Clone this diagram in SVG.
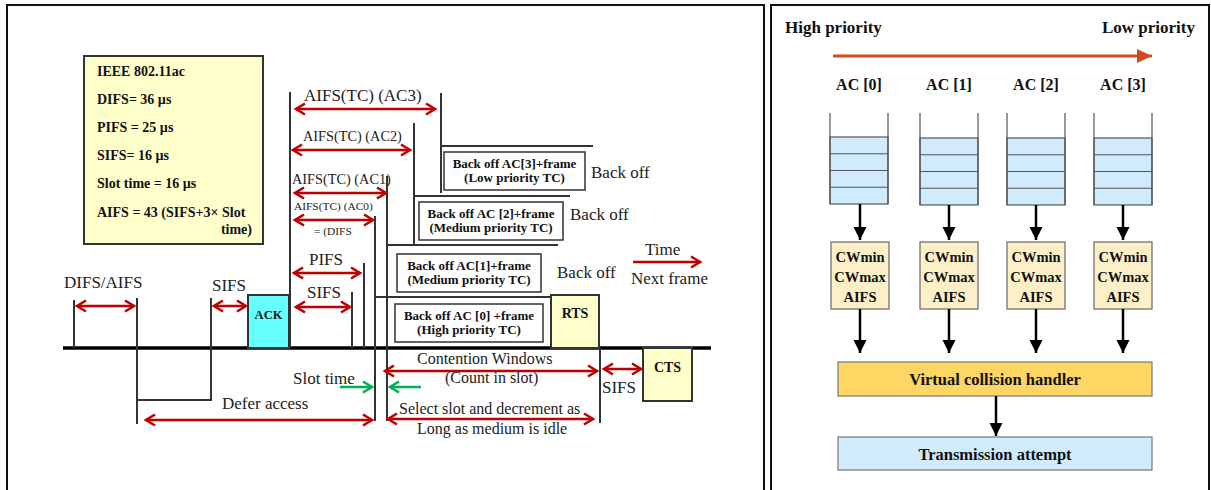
<svg xmlns="http://www.w3.org/2000/svg" width="1211" height="490" viewBox="0 0 1211 490">
  <defs>
    <style>
      .frame { fill: none; stroke: #111; stroke-width: 2; }
      .ln { stroke: #333; stroke-width: 2; fill: none; }
      .medium { stroke: #000; stroke-width: 3.5; }
      .red { stroke: #c00000; stroke-width: 2.5; fill: none; }
      .green { stroke: #00b050; stroke-width: 2.5; fill: none; }
      .blk { stroke: #000; stroke-width: 2.5; fill: none; }
      .lbl { font-family: "Liberation Serif", "Times New Roman", serif; fill: #222; }
      .b { font-family: "Liberation Serif", "Times New Roman", serif; font-weight: bold; fill: #111; }
      .box { fill: #fff; stroke: #333; stroke-width: 1.5; }
      .q { fill: #d0ebfb; stroke: #555; stroke-width: 1.2; }
      .qs { stroke: #555; stroke-width: 1.2; fill: none; }
      .cw { fill: #fdf0c8; stroke: #666; stroke-width: 1.2; }
    </style>
    <marker id="ra" markerUnits="userSpaceOnUse" markerWidth="14" markerHeight="14" refX="11" refY="7" orient="auto-start-reverse">
      <path d="M2,1.5 L11,7 L2,12.5" fill="none" stroke="#c00000" stroke-width="2.6"/>
    </marker>
    <marker id="ga" markerUnits="userSpaceOnUse" markerWidth="14" markerHeight="14" refX="11" refY="7" orient="auto-start-reverse">
      <path d="M2,1.5 L11,7 L2,12.5" fill="none" stroke="#00b050" stroke-width="2.6"/>
    </marker>
    <marker id="ba" markerUnits="userSpaceOnUse" markerWidth="14" markerHeight="14" refX="13" refY="6.5" orient="auto">
      <path d="M0,0 L13,6.5 L0,13 z" fill="#000"/>
    </marker>
    <marker id="oa" markerUnits="userSpaceOnUse" markerWidth="16" markerHeight="16" refX="15" refY="7" orient="auto">
      <path d="M0,0 L15,7 L0,14 z" fill="#d24a1e"/>
    </marker>
  </defs>

  <!-- panel frames -->
  <rect class="frame" x="7" y="5" width="757" height="495"/>
  <rect class="frame" x="771" y="5" width="438" height="495" stroke-width="1.5"/>

  <!-- ===== Left panel: EDCA timing ===== -->
  <g id="params">
    <rect x="84" y="56" width="179" height="188" fill="#ffffcc" stroke="#333" stroke-width="2"/>
    <text class="b" font-size="14" x="97" y="76">IEEE 802.11ac</text>
    <text class="b" font-size="14" x="97" y="104">DIFS= 36 µs</text>
    <text class="b" font-size="14" x="97" y="132">PIFS = 25 µs</text>
    <text class="b" font-size="14" x="97" y="160">SIFS= 16 µs</text>
    <text class="b" font-size="14" x="97" y="188">Slot time = 16 µs</text>
    <text class="b" font-size="14" x="97" y="217">AIFS = 43 (SIFS+3× Slot</text>
    <text class="b" font-size="14" x="252" y="234" text-anchor="end">time)</text>
  </g>

  <g id="medium-lines">
    <line class="medium" x1="63" y1="348" x2="711" y2="348"/>
    <line class="ln" x1="74" y1="300" x2="74" y2="348"/>
    <line class="ln" x1="137" y1="298" x2="137" y2="424"/>
    <polyline class="ln" points="211,298 211,400 137,400"/>
    <line class="ln" x1="290" y1="92" x2="290" y2="348"/>
    <line class="ln" x1="352" y1="292" x2="352" y2="348"/>
    <line class="ln" x1="364" y1="263" x2="364" y2="348"/>
    <line class="ln" x1="375" y1="216" x2="375" y2="421"/>
    <line class="ln" x1="387" y1="176" x2="387" y2="421"/>
    <line class="ln" x1="414" y1="123" x2="414" y2="245"/>
    <line class="ln" x1="441" y1="93" x2="441" y2="193"/>
    <line class="ln" x1="441" y1="146" x2="593" y2="146"/>
    <line class="ln" x1="414" y1="196" x2="570" y2="196"/>
    <line class="ln" x1="387" y1="245" x2="558" y2="245"/>
    <line class="ln" x1="375" y1="297" x2="551" y2="297"/>
    <line class="ln" x1="600" y1="348" x2="600" y2="423"/>
  </g>

  <g id="frames">
    <g id="ack">
      <rect x="248" y="295" width="41" height="53" fill="#66ffff" stroke="#333" stroke-width="2"/>
      <text class="b" font-size="12.5" x="268.5" y="319" text-anchor="middle">ACK</text>
    </g>
    <g id="rts">
      <rect x="551" y="295" width="48" height="53" fill="#ffffcc" stroke="#333" stroke-width="2"/>
      <text class="b" font-size="14" x="575" y="318" text-anchor="middle">RTS</text>
    </g>
    <g id="cts">
      <rect x="643" y="348" width="49" height="53" fill="#ffffcc" stroke="#333" stroke-width="2"/>
      <text class="b" font-size="14" x="667.5" y="372" text-anchor="middle">CTS</text>
    </g>
    <g id="backoff-ac3">
      <rect class="box" x="444" y="152" width="141" height="38"/>
      <text class="b" font-size="13" x="514.5" y="168" text-anchor="middle">Back off AC[3]+frame</text>
      <text class="b" font-size="13" x="514.5" y="182" text-anchor="middle">(Low priority TC)</text>
    </g>
    <g id="backoff-ac2">
      <rect class="box" x="419" y="202" width="144" height="38"/>
      <text class="b" font-size="13" x="491" y="218" text-anchor="middle">Back off AC [2]+frame</text>
      <text class="b" font-size="13" x="491" y="232" text-anchor="middle">(Medium priority TC)</text>
    </g>
    <g id="backoff-ac1">
      <rect class="box" x="397" y="254" width="144" height="38"/>
      <text class="b" font-size="13" x="469" y="270" text-anchor="middle">Back off AC[1]+frame</text>
      <text class="b" font-size="13" x="469" y="284" text-anchor="middle">(Medium priority TC)</text>
    </g>
    <g id="backoff-ac0">
      <rect class="box" x="395" y="304" width="148" height="38"/>
      <text class="b" font-size="13" x="469" y="320" text-anchor="middle">Back off AC [0] +frame</text>
      <text class="b" font-size="13" x="469" y="334" text-anchor="middle">(High priority TC)</text>
    </g>
  </g>

  <g id="intervals">
    <line class="red" x1="77" y1="306" x2="134" y2="306" marker-start="url(#ra)" marker-end="url(#ra)"/>
    <line class="red" x1="214" y1="306" x2="246" y2="306" marker-start="url(#ra)" marker-end="url(#ra)"/>
    <line class="red" x1="296" y1="109" x2="435" y2="109" marker-start="url(#ra)" marker-end="url(#ra)"/>
    <line class="red" x1="293" y1="150" x2="410" y2="150" marker-start="url(#ra)" marker-end="url(#ra)"/>
    <line class="red" x1="295" y1="193" x2="386" y2="193" marker-start="url(#ra)" marker-end="url(#ra)"/>
    <line class="red" x1="295" y1="220" x2="373" y2="220" marker-start="url(#ra)" marker-end="url(#ra)"/>
    <line class="red" x1="294" y1="273" x2="360" y2="273" marker-start="url(#ra)" marker-end="url(#ra)"/>
    <line class="red" x1="296" y1="307" x2="350" y2="307" marker-start="url(#ra)" marker-end="url(#ra)"/>
    <line class="red" x1="146" y1="420" x2="372" y2="420" marker-start="url(#ra)" marker-end="url(#ra)"/>
    <line class="red" x1="385" y1="371" x2="597" y2="371" marker-start="url(#ra)" marker-end="url(#ra)"/>
    <line class="red" x1="604" y1="369" x2="641" y2="369" marker-start="url(#ra)" marker-end="url(#ra)"/>
    <line class="red" x1="388" y1="419" x2="593" y2="419" marker-start="url(#ra)" marker-end="url(#ra)"/>
    <line class="red" x1="633" y1="262" x2="700" y2="262" marker-end="url(#ra)"/>
    <line class="green" x1="340" y1="387" x2="372" y2="387" marker-end="url(#ga)"/>
    <line class="green" x1="421" y1="387" x2="390" y2="387" marker-end="url(#ga)"/>
  </g>

  <g id="timing-labels">
    <text class="lbl" font-size="17" x="64" y="288">DIFS/AIFS</text>
    <text class="lbl" font-size="17" x="212" y="291">SIFS</text>
    <text class="lbl" font-size="17" x="304" y="101">AIFS(TC) (AC3)</text>
    <text class="lbl" font-size="14.3" x="303" y="141">AIFS(TC) (AC2)</text>
    <text class="lbl" font-size="14.3" x="292" y="184">AIFS(TC) (AC1)</text>
    <text class="lbl" font-size="11.4" x="294" y="210">AIFS(TC) (AC0)</text>
    <text class="lbl" font-size="11.4" x="314" y="235">= (DIFS</text>
    <text class="lbl" font-size="17" x="309" y="265">PIFS</text>
    <text class="lbl" font-size="17" x="307" y="298">SIFS</text>
    <text class="lbl" font-size="17" x="293" y="384">Slot time</text>
    <text class="lbl" font-size="17" x="222" y="409">Defer access</text>
    <text class="lbl" font-size="17" x="591" y="178">Back off</text>
    <text class="lbl" font-size="17" x="570" y="220">Back off</text>
    <text class="lbl" font-size="17" x="557" y="278">Back off</text>
    <text class="lbl" font-size="17" x="645" y="255">Time</text>
    <text class="lbl" font-size="17" x="631" y="284">Next frame</text>
    <text class="lbl" font-size="16" x="417" y="364">Contention Windows</text>
    <text class="lbl" font-size="16" x="445" y="383">(Count in slot)</text>
    <text class="lbl" font-size="17" x="602" y="393">SIFS</text>
    <text class="lbl" font-size="16" x="399" y="414">Select slot and decrement as</text>
    <text class="lbl" font-size="16" x="417" y="434">Long as medium is idle</text>
  </g>

  <!-- ===== Right panel: EDCA access categories ===== -->
  <g id="priority">
    <text class="b" font-size="17" x="785" y="33">High priority</text>
    <text class="b" font-size="17" x="1195" y="33" text-anchor="end">Low priority</text>
    <line x1="833" y1="56" x2="1152" y2="56" stroke="#d24a1e" stroke-width="3" marker-end="url(#oa)"/>
  </g>

  <g id="ac0">
    <text class="b" font-size="16" x="859" y="90" text-anchor="middle">AC [0]</text>
    <rect class="q" x="830" y="137" width="58" height="67"/>
    <path class="qs" d="M830,153.75 H888 M830,170.5 H888 M830,187.25 H888 M830,113 V204 M888,113 V204"/>
  </g>
  <g id="ac1">
    <text class="b" font-size="16" x="949" y="90" text-anchor="middle">AC [1]</text>
    <rect class="q" x="920" y="138" width="58" height="67"/>
    <path class="qs" d="M920,154.75 H978 M920,171.5 H978 M920,188.25 H978 M920,113 V205 M978,113 V205"/>
  </g>
  <g id="ac2">
    <text class="b" font-size="16" x="1036" y="90" text-anchor="middle">AC [2]</text>
    <rect class="q" x="1007" y="138" width="58" height="67"/>
    <path class="qs" d="M1007,154.75 H1065 M1007,171.5 H1065 M1007,188.25 H1065 M1007,113 V205 M1065,113 V205"/>
  </g>
  <g id="ac3">
    <text class="b" font-size="16" x="1123" y="90" text-anchor="middle">AC [3]</text>
    <rect class="q" x="1094" y="138" width="58" height="67"/>
    <path class="qs" d="M1094,154.75 H1152 M1094,171.5 H1152 M1094,188.25 H1152 M1094,113 V205 M1152,113 V205"/>
  </g>

  <g id="params-ac0">
    <rect class="cw" x="831" y="242" width="58" height="67"/>
    <text class="b" font-size="14.5" x="860" y="262" text-anchor="middle">CWmin</text>
    <text class="b" font-size="14.5" x="860" y="282" text-anchor="middle">CWmax</text>
    <text class="b" font-size="14.5" x="860" y="302" text-anchor="middle">AIFS</text>
  </g>
  <g id="params-ac1">
    <rect class="cw" x="920" y="242" width="58" height="67"/>
    <text class="b" font-size="14.5" x="949" y="262" text-anchor="middle">CWmin</text>
    <text class="b" font-size="14.5" x="949" y="282" text-anchor="middle">CWmax</text>
    <text class="b" font-size="14.5" x="949" y="302" text-anchor="middle">AIFS</text>
  </g>
  <g id="params-ac2">
    <rect class="cw" x="1007" y="242" width="58" height="67"/>
    <text class="b" font-size="14.5" x="1036" y="262" text-anchor="middle">CWmin</text>
    <text class="b" font-size="14.5" x="1036" y="282" text-anchor="middle">CWmax</text>
    <text class="b" font-size="14.5" x="1036" y="302" text-anchor="middle">AIFS</text>
  </g>
  <g id="params-ac3">
    <rect class="cw" x="1094" y="242" width="58" height="67"/>
    <text class="b" font-size="14.5" x="1123" y="262" text-anchor="middle">CWmin</text>
    <text class="b" font-size="14.5" x="1123" y="282" text-anchor="middle">CWmax</text>
    <text class="b" font-size="14.5" x="1123" y="302" text-anchor="middle">AIFS</text>
  </g>

  <g id="collision-handler">
    <rect x="838" y="362" width="314" height="34" fill="#fdd663" stroke="#777" stroke-width="1.2"/>
    <text class="b" font-size="16.5" x="995" y="385" text-anchor="middle">Virtual collision handler</text>
  </g>
  <g id="transmission">
    <rect x="838" y="437" width="314" height="33" fill="#d0ebfb" stroke="#777" stroke-width="1.2"/>
    <text class="b" font-size="16.5" x="995" y="460" text-anchor="middle">Transmission attempt</text>
  </g>

  <g id="connectors">
    <line class="blk" x1="860" y1="204" x2="860" y2="240" marker-end="url(#ba)"/>
    <line class="blk" x1="949" y1="205" x2="949" y2="240" marker-end="url(#ba)"/>
    <line class="blk" x1="1036" y1="205" x2="1036" y2="240" marker-end="url(#ba)"/>
    <line class="blk" x1="1123" y1="205" x2="1123" y2="240" marker-end="url(#ba)"/>
    <line class="blk" x1="860" y1="309" x2="860" y2="353" marker-end="url(#ba)"/>
    <line class="blk" x1="949" y1="309" x2="949" y2="353" marker-end="url(#ba)"/>
    <line class="blk" x1="1036" y1="309" x2="1036" y2="353" marker-end="url(#ba)"/>
    <line class="blk" x1="1123" y1="309" x2="1123" y2="353" marker-end="url(#ba)"/>
    <line class="blk" x1="996" y1="396" x2="996" y2="436" marker-end="url(#ba)"/>
  </g>
</svg>
